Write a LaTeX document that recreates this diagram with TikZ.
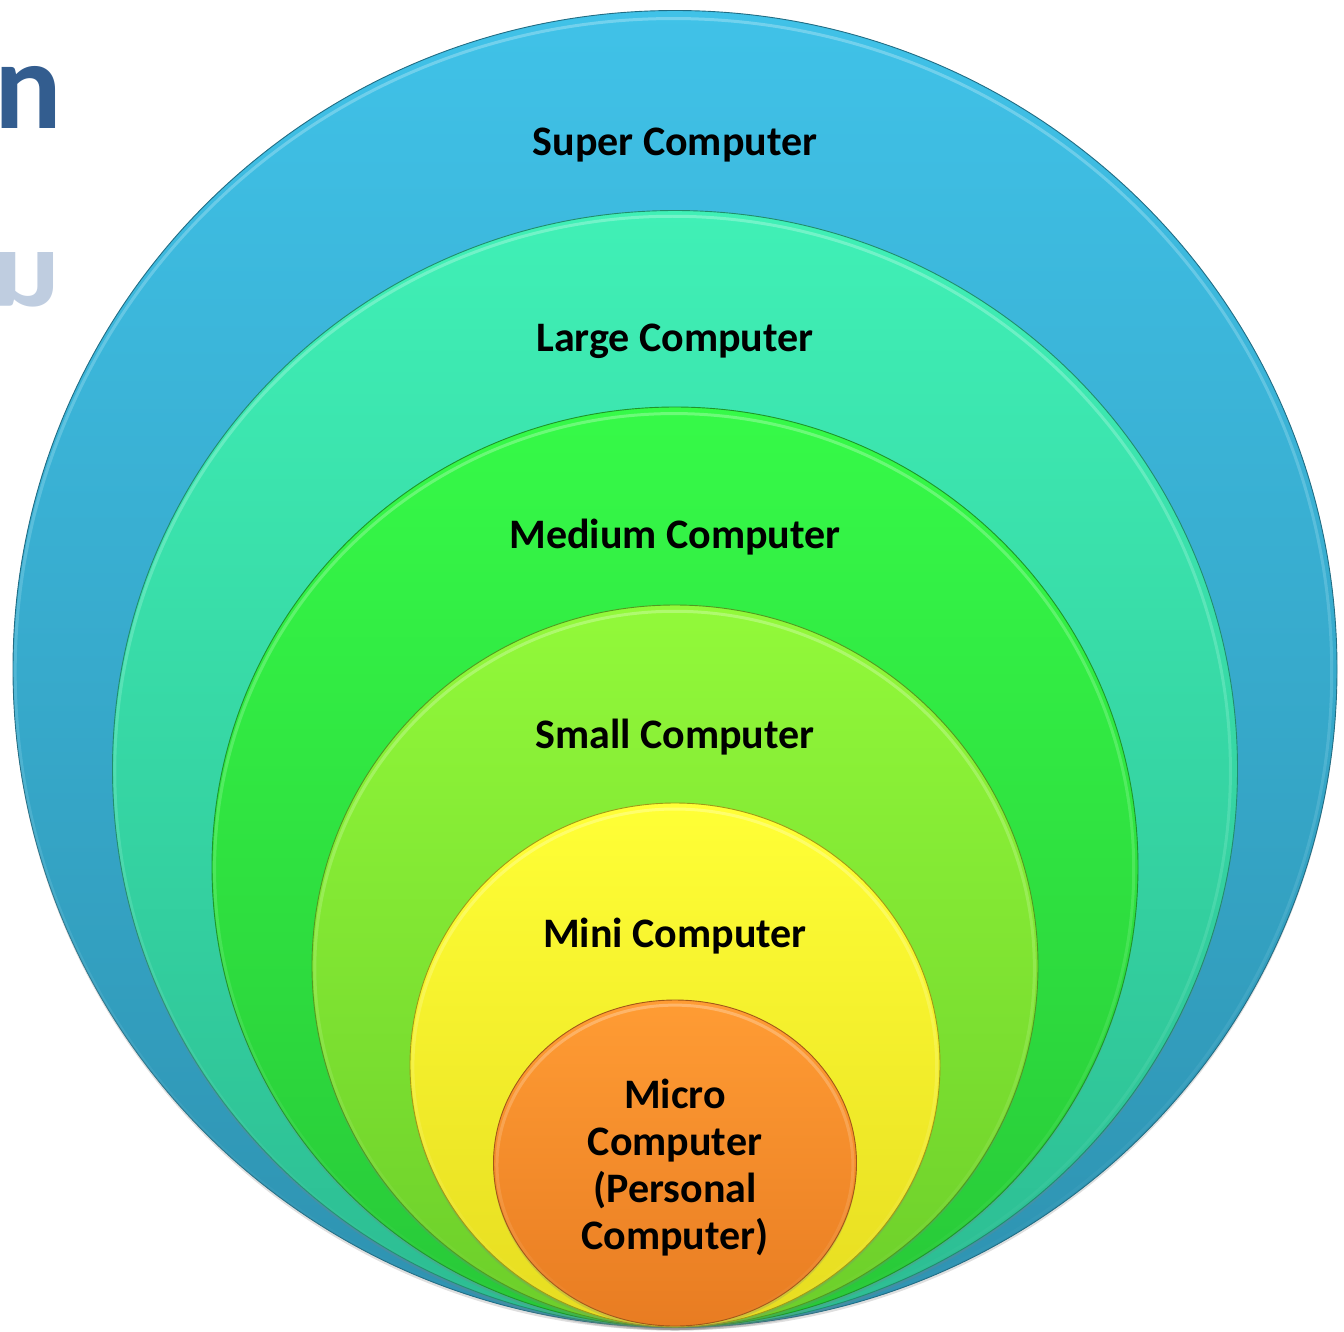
\documentclass[tikz,border=0pt]{standalone}
\usepackage{fontspec}
\setmainfont{Carlito}
\usetikzlibrary{shapes.geometric,shadows,fadings}
\definecolor{supT}{HTML}{40C2E8}
\definecolor{supB}{HTML}{2E92B0}
\definecolor{larT}{HTML}{40F0B6}
\definecolor{larB}{HTML}{2CBC92}
\definecolor{medT}{HTML}{36FA48}
\definecolor{medB}{HTML}{28C838}
\definecolor{smaT}{HTML}{92F93A}
\definecolor{smaB}{HTML}{6CCE2A}
\definecolor{minT}{HTML}{FFFF36}
\definecolor{minB}{HTML}{E6DC20}
\definecolor{micT}{HTML}{FF9C34}
\definecolor{micB}{HTML}{E87C22}
\definecolor{titleblue}{HTML}{335D8F}
\definecolor{reflblue}{HTML}{BFCDE0}
\tikzfading[name=rimfade, top color=transparent!0, middle color=transparent!100, bottom color=transparent!100]
\begin{document}
\begin{tikzpicture}[x=1pt,y=-1pt,
  ring/.style={ellipse, inner sep=0pt, outer sep=0pt, line width=0.9pt,
    drop shadow={opacity=0.25, shadow xshift=0pt, shadow yshift=-3pt}},
  rim/.style={line width=3pt, opacity=0.45, path fading=rimfade},
  lbl/.style={font=\fontsize{42}{47}\selectfont\bfseries, text=black, inner sep=0pt, anchor=base},
  ghost/.style={font=\fontsize{126}{130}\selectfont\bfseries, inner sep=0pt}]
\useasboundingbox (0,0) rectangle (1344,1331);
% partial title letters at the left edge
\node[ghost, text=titleblue, anchor=base east] (title) at (62,128) {n};
\node[ghost, text=reflblue, anchor=base east, yscale=-0.88, transform shape] (refl) at (60,252) {n};
% nested ellipses
\node[ring, minimum width=1324pt, minimum height=1317pt, top color=supT, bottom color=supB, draw=supB!75!black] (super) at (675,669) {};
\draw[rim, supT!40!white] (675,671) ellipse [x radius=659pt, y radius=654pt];
\node[ring, minimum width=1125pt, minimum height=1117pt, top color=larT, bottom color=larB, draw=larB!75!black] (large) at (675,769) {};
\draw[rim, larT!40!white] (675,771) ellipse [x radius=559pt, y radius=555pt];
\node[ring, minimum width=926pt, minimum height=920pt, top color=medT, bottom color=medB, draw=medB!75!black] (medium) at (675,867) {};
\draw[rim, medT!40!white] (675,869) ellipse [x radius=460pt, y radius=456pt];
\node[ring, minimum width=726pt, minimum height=722pt, top color=smaT, bottom color=smaB, draw=smaB!75!black] (small) at (675,966) {};
\draw[rim, smaT!40!white] (675,968) ellipse [x radius=360pt, y radius=357pt];
\node[ring, minimum width=530pt, minimum height=524pt, top color=minT, bottom color=minB, draw=minB!70!black] (mini) at (675,1065) {};
\draw[rim, minT!40!white] (675,1067) ellipse [x radius=262pt, y radius=258pt];
\node[ring, minimum width=363pt, minimum height=326pt, top color=micT, bottom color=micB, draw=micB!70!black] (micro) at (675,1163) {};
\draw[rim, micT!40!white] (675,1165) ellipse [x radius=178pt, y radius=160pt];
% labels
\node[lbl] (lsuper) at (675,155) {Super Computer};
\node[lbl] (llarge) at (675,351) {Large Computer};
\node[lbl] (lmedium) at (675,548) {Medium Computer};
\node[lbl] (lsmall) at (675,748) {Small Computer};
\node[lbl] (lmini) at (675,947) {Mini Computer};
\node[lbl, anchor=center, align=center] (lmicro) at (675,1168) {Micro\\Computer\\(Personal\\Computer)};
\end{tikzpicture}
\end{document}
